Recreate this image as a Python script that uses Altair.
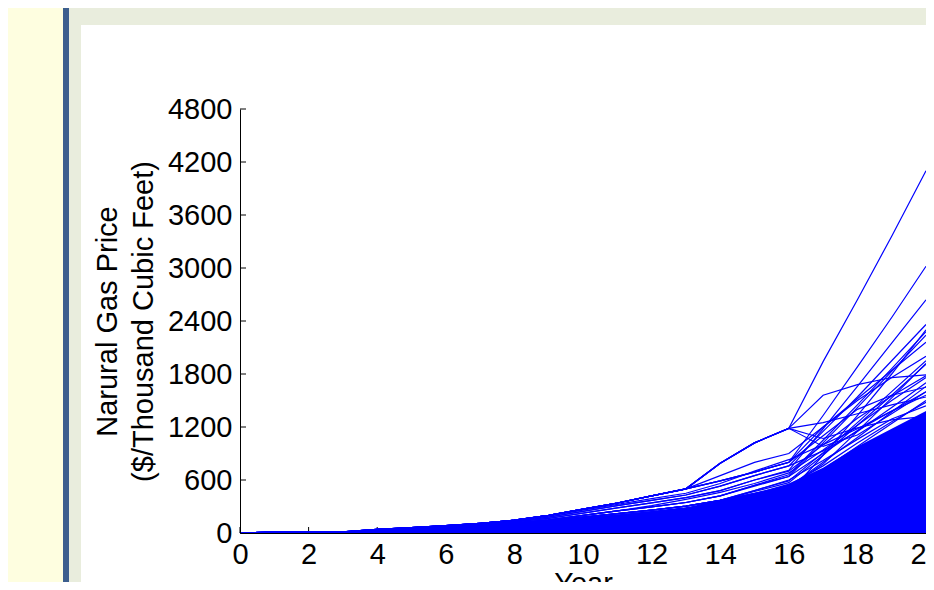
import altair as alt
import pandas as pd

# ---------------- data ----------------
YEARS = list(range(21))

PATH_A  = [5, 7, 9, 12, 40, 62, 83, 110, 145, 200, 270, 340, 420, 500, 790, 1020, 1185, 1940, 2640, 3360, 4100]
PATH_A2 = [5, 7, 9, 12, 40, 62, 83, 110, 145, 200, 270, 340, 420, 500, 790, 1020, 1185, 1560, 1680, 1760, 1790]
PATH_A3 = [5, 7, 9, 12, 40, 62, 83, 110, 145, 200, 270, 340, 420, 500, 790, 1020, 1185, 1070, 1190, 1280, 1320]
PATH_K  = [5, 7, 9, 12, 40, 62, 83, 110, 145, 200, 270, 340, 420, 500, 790, 1020, 1185, 980, 1110, 1350, 1600]
PATH_P5 = [5, 7, 9, 12, 40, 62, 83, 110, 145, 200, 270, 340, 420, 500, 790, 1020, 1185, 1250, 1350, 1450, 1540]
PATH_Q2 = [5, 7, 9, 12, 40, 62, 83, 110, 145, 200, 270, 340, 420, 500, 650, 800, 900, 1200, 1520, 1840, 2160]
PATH_B  = [5, 7, 9, 12, 40, 62, 83, 110, 145, 200, 270, 340, 420, 500, 590, 690, 800, 1330, 1880, 2440, 3020]
PATH_L  = [5, 7, 9, 12, 40, 62, 83, 110, 145, 200, 270, 340, 420, 500, 590, 690, 800, 1100, 1400, 1560, 1650]
PATH_P6 = [5, 7, 9, 12, 40, 62, 83, 110, 145, 200, 270, 340, 420, 500, 590, 690, 800, 1200, 1500, 1760, 2000]
PATH_Q1 = [5, 7, 9, 11, 38, 60, 81, 106, 138, 190, 258, 325, 390, 450, 560, 700, 830, 1000, 1180, 1380, 1600]
PATH_O  = [5, 7, 9, 11, 37, 58, 79, 103, 132, 180, 245, 310, 370, 430, 530, 650, 760, 1150, 1540, 1950, 2360]
PATH_P4 = [5, 7, 9, 11, 37, 58, 79, 103, 132, 180, 245, 310, 370, 430, 530, 650, 760, 930, 1150, 1420, 1700]
PATH_C  = [5, 7, 9, 11, 36, 57, 77, 100, 125, 165, 225, 285, 340, 400, 480, 600, 710, 1180, 1660, 2150, 2640]
PATH_M  = [5, 7, 9, 11, 36, 57, 77, 100, 125, 165, 225, 285, 340, 400, 480, 600, 700, 1000, 1300, 1550, 1780]
PATH_D  = [5, 7, 9, 11, 34, 54, 73, 94, 116, 150, 200, 250, 295, 345, 420, 530, 640, 1020, 1420, 1830, 2240]
PATH_D2 = [5, 7, 9, 11, 34, 54, 73, 94, 116, 150, 200, 250, 295, 345, 420, 540, 660, 1050, 1450, 1860, 2280]
PATH_P3 = [5, 7, 9, 11, 34, 54, 73, 94, 116, 150, 200, 250, 295, 345, 420, 540, 640, 900, 1160, 1380, 1560]
PATH_N  = [5, 7, 9, 11, 34, 54, 73, 94, 116, 150, 200, 250, 310, 380, 460, 560, 680, 940, 1220, 1500, 1760]
PATH_E  = [5, 6, 8, 10, 33, 52, 70, 90, 110, 140, 180, 220, 260, 305, 370, 470, 570, 880, 1220, 1560, 1910]
PATH_E2 = [5, 6, 8, 10, 33, 52, 70, 90, 110, 140, 180, 220, 260, 305, 370, 480, 590, 910, 1250, 1600, 1950]
PATH_P2 = [5, 6, 8, 10, 33, 52, 70, 90, 110, 140, 180, 220, 260, 305, 370, 480, 600, 820, 1060, 1290, 1440]
PATH_J  = [5, 6, 8, 10, 33, 52, 70, 90, 110, 140, 180, 220, 260, 305, 370, 450, 520, 780, 1150, 1530, 1920]
PATH_P1 = [5, 6, 8, 10, 33, 52, 70, 90, 110, 140, 180, 220, 260, 305, 370, 450, 540, 760, 1020, 1260, 1480]
PATH_I  = [5, 6, 8, 10, 32, 50, 68, 88, 108, 132, 165, 200, 240, 285, 340, 400, 450, 880, 1330, 1800, 2300]
PATH_F  = [5, 6, 8, 10, 32, 50, 68, 88, 108, 132, 165, 200, 240, 280, 330, 420, 520, 800, 1080, 1370, 1660]
PATH_G  = [5, 6, 8, 10, 32, 50, 68, 88, 108, 132, 165, 200, 240, 280, 320, 400, 480, 720, 980, 1240, 1500]
PATH_H  = [5, 6, 8, 10, 32, 50, 68, 88, 108, 132, 165, 200, 240, 280, 320, 390, 460, 660, 880, 1100, 1330]

# upper edge of the densely packed (solid blue) bundle of paths
DENSE_TOP = [6, 7, 8, 10, 30, 50, 68, 88, 108, 132, 165, 200, 240, 285, 380, 450, 560, 740, 980, 1180, 1380]

X_TICKS = [0, 2, 4, 6, 8, 10, 12, 14, 16, 18, 20]
Y_TICKS = [0, 600, 1200, 1800, 2400, 3000, 3600, 4200, 4800]

PATHS = {
    "A": PATH_A, "A2": PATH_A2, "A3": PATH_A3, "K": PATH_K, "P5": PATH_P5,
    "Q2": PATH_Q2, "B": PATH_B, "L": PATH_L, "P6": PATH_P6, "Q1": PATH_Q1,
    "O": PATH_O, "P4": PATH_P4, "C": PATH_C, "M": PATH_M, "D": PATH_D,
    "D2": PATH_D2, "P3": PATH_P3, "N": PATH_N, "E": PATH_E, "E2": PATH_E2,
    "P2": PATH_P2, "J": PATH_J, "P1": PATH_P1, "I": PATH_I, "F": PATH_F,
    "G": PATH_G, "H": PATH_H,
}

rows = []
for name, vals in PATHS.items():
    for yr, v in zip(YEARS, vals):
        rows.append({"path": name, "year": yr, "price": v})
lines_df = pd.DataFrame(rows)
dense_df = pd.DataFrame({"year": YEARS, "price": DENSE_TOP})
xt_df = pd.DataFrame({"year": X_TICKS})
yt_df = pd.DataFrame({"price": Y_TICKS})
one = pd.DataFrame({"k": [0]})

# ---------------- styling ----------------
FONT = "Liberation Sans"
BLUE = "#0000FF"
W, H = 686, 424
FS = 29

xs = alt.Scale(domain=[0, 20], nice=False, zero=False)
ys = alt.Scale(domain=[0, 4800], nice=False)

xaxis = alt.Axis(values=X_TICKS, format="d", title="Year", grid=False, tickSize=0,
                 labelPadding=7, labelFlush=False, labelAngle=0, labelOverlap=False,
                 labelFont=FONT, labelFontSize=FS, labelColor="black",
                 titleFont=FONT, titleFontSize=FS, titleFontWeight="normal",
                 titleColor="black", titlePadding=0, zindex=1,
                 domainColor="black", domainWidth=1)
yaxis = alt.Axis(values=Y_TICKS, format="d",
                 title=["Narural Gas Price", "($/Thousand Cubic Feet)"],
                 grid=False, tickSize=0, labelPadding=8, labelFlush=False,
                 labelOverlap=False, zindex=1,
                 labelFont=FONT, labelFontSize=FS, labelColor="black",
                 titleFont=FONT, titleFontSize=FS, titleFontWeight="normal",
                 titleColor="black", titlePadding=9, titleLineHeight=36,
                 domainColor="black", domainWidth=1)

X = alt.X("year:Q", scale=xs, axis=xaxis)
Y = alt.Y("price:Q", scale=ys, axis=yaxis)

# slide frame behind the figure (decoration, not data)
yellow = alt.Chart(one).mark_rect(color="#FEFEE0").encode(
    x=alt.value(-240), x2=alt.value(-177), y=alt.value(-120), y2=alt.value(600))
bar = alt.Chart(one).mark_rect(color="#3C5E8E").encode(
    x=alt.value(-177), x2=alt.value(-171), y=alt.value(-120), y2=alt.value(600))
panel = alt.Chart(one).mark_rect(color="white").encode(
    x=alt.value(-159), x2=alt.value(800), y=alt.value(-84), y2=alt.value(600))

# inward ticks
xticks = alt.Chart(xt_df).mark_rule(color="black", strokeWidth=1).encode(
    x=X, y=alt.value(H), y2=alt.value(H - 6))
yticks = alt.Chart(yt_df).mark_rule(color="black", strokeWidth=1).encode(
    y=Y, x=alt.value(0), x2=alt.value(6))

dense = alt.Chart(dense_df).mark_area(color=BLUE, opacity=1, interpolate="linear").encode(
    x=X, y=Y)

paths = alt.Chart(lines_df).mark_line(color=BLUE, strokeWidth=1.2, interpolate="linear").encode(
    x=X, y=Y, detail="path:N", order="year:Q")

chart = alt.layer(yellow, bar, panel, xticks, yticks, dense, paths).properties(
    width=W, height=H,
    background="#E9EDDD",
    padding={"left": 232, "top": 101, "right": 0, "bottom": 49},
    autosize=alt.AutoSizeParams(type="none"),
).configure_view(stroke=None)

chart.save("out.html", embed_options={"renderer": "svg", "actions": False})
